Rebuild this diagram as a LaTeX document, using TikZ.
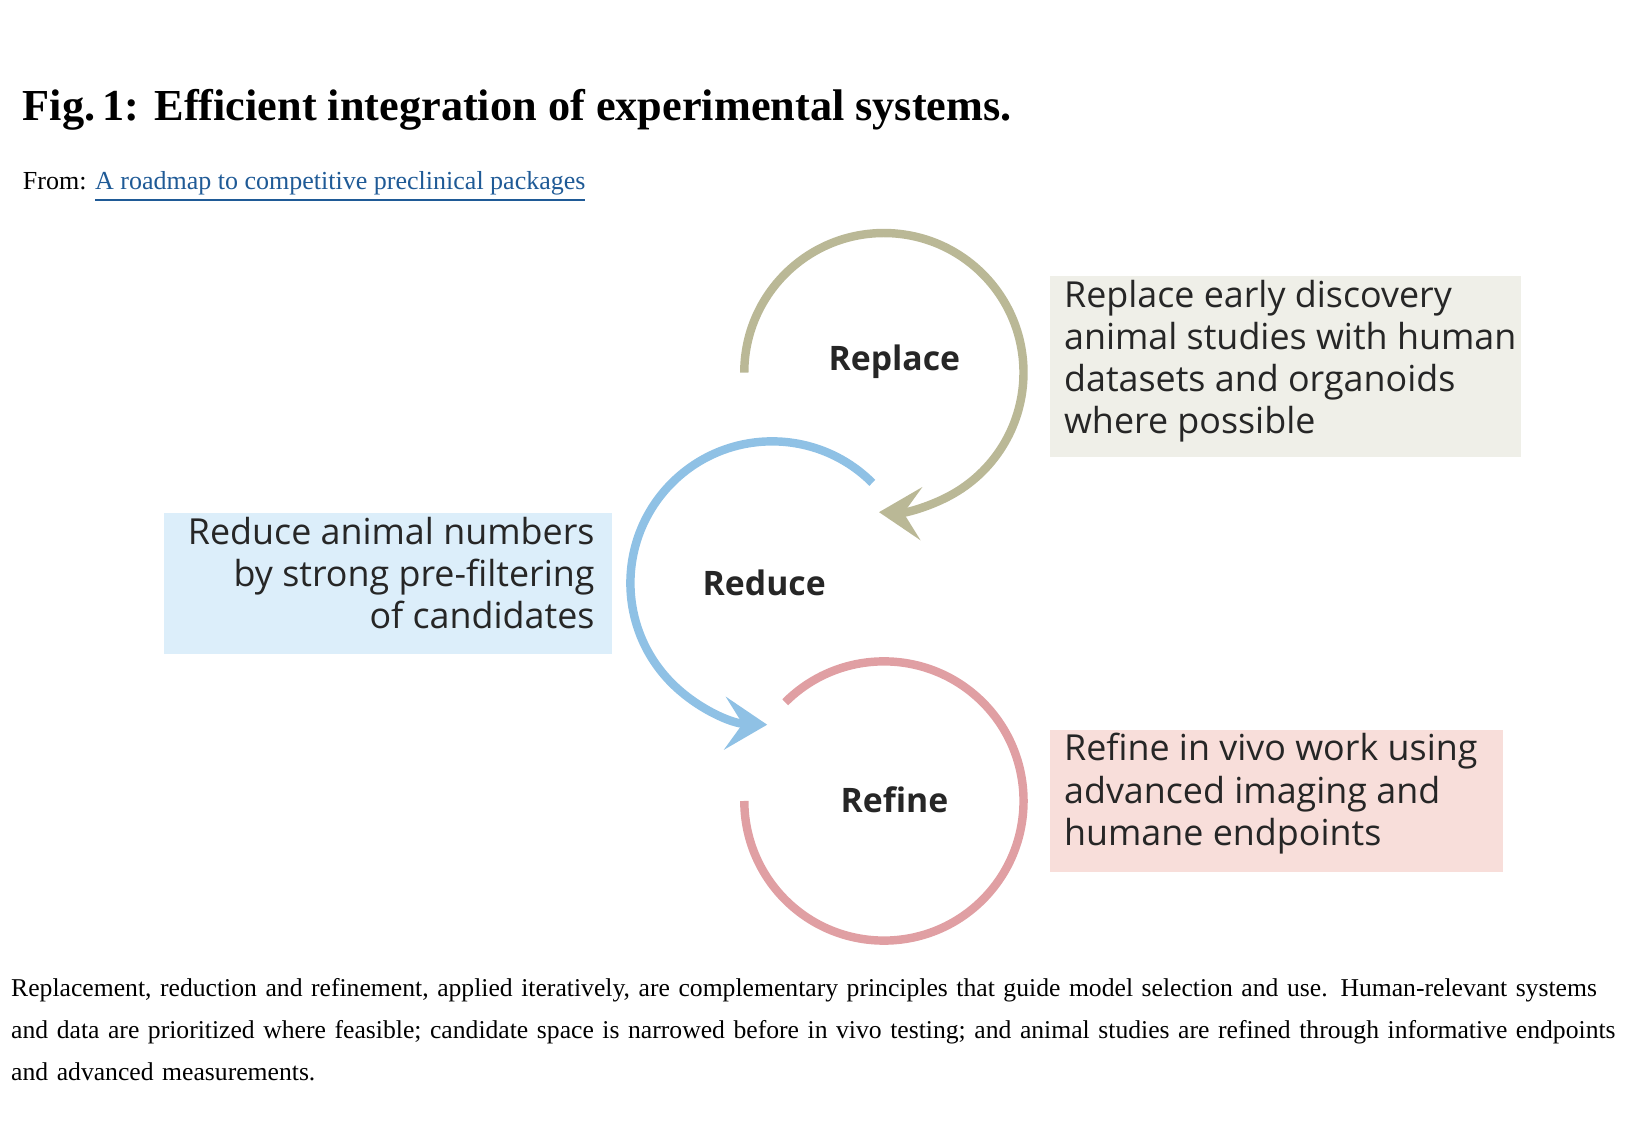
\documentclass[tikz,border=0pt]{standalone}
\usepackage{fontspec}
\setmainfont{Liberation Serif}
\newfontfamily\boxfont{Open Sans}
\usetikzlibrary{arrows.meta,positioning}
\definecolor{replacecol}{HTML}{BAB896}
\definecolor{reducecol}{HTML}{8FC1E5}
\definecolor{refinecol}{HTML}{E09FA3}
\definecolor{replacefill}{HTML}{EFEFE8}
\definecolor{reducefill}{HTML}{DCEEFA}
\definecolor{refinefill}{HTML}{F8DEDA}
\definecolor{linkcol}{HTML}{1F5A96}

\begin{document}
\begin{tikzpicture}[x=0.0105cm, y=0.0105cm]
    \tikzstyle{note} = [inner sep=0pt, font=\boxfont\fontsize{10.2}{12}\selectfont, text=black!85]
    \tikzstyle{ring} = [line width=2.4pt]
    \tikzstyle{tip} = [-{Stealth[length=12pt, width=15pt, inset=5pt]}]
    \tikzstyle{word} = [font=\boxfont\bfseries\fontsize{9.6}{11}\selectfont, text=black!85]
    \useasboundingbox (0,0) rectangle (1568,1076);

    % heading and source
    \node [anchor=west, font=\bfseries\fontsize{12.6}{14}\selectfont] (title) at (10,971) {Fig.\,1: Efficient integration of experimental systems.};
    \node [anchor=west, font=\fontsize{7.4}{9}\selectfont] (from) at (10,898) {From: \textcolor{linkcol}{\underline{A roadmap to competitive preclinical packages}}};

    % background boxes
    \fill [replacefill] (1000,641) rectangle (1449,813);
    \fill [reducefill] (156,453) rectangle (583,587);
    \fill [refinefill] (1000,245) rectangle (1432,381);

    % cycle
    \draw [ring, replacecol, tip] (709,721) arc [start angle=180, end angle=-92, radius=133];
    \draw [ring, reducecol, tip] (831,616) arc [start angle=45, end angle=268, radius=135];
    \draw [ring, refinecol] (748,407) arc [start angle=135, end angle=-180, radius=133];

    \node [word] (replace) at (852,731) {Replace};
    \node [word] (reduce) at (728,521) {Reduce};
    \node [word] (refine) at (852,314) {Refine};

    \node [note, anchor=north west, align=left] (replacetext) at (1013,810) {Replace early discovery\\animal studies with human\\datasets and organoids\\where possible};
    \node [note, anchor=north east, align=right] (reducetext) at (567,584) {Reduce animal numbers\\by strong pre-filtering\\of candidates};
    \node [note, anchor=north west, align=left] (refinetext) at (1013,378) {Refine in vivo work using\\advanced imaging and\\humane endpoints};

    % caption
    \node [anchor=north west, inner sep=0pt, text width=16.3cm, align=left, font=\fontsize{7.3}{12}\selectfont] (caption) at (10,145)
        {Replacement, reduction and refinement, applied iteratively, are complementary principles that guide model selection and use. Human-relevant systems and data are prioritized where feasible; candidate space is narrowed before in vivo testing; and animal studies are refined through informative endpoints and advanced measurements.};
\end{tikzpicture}
\end{document}
